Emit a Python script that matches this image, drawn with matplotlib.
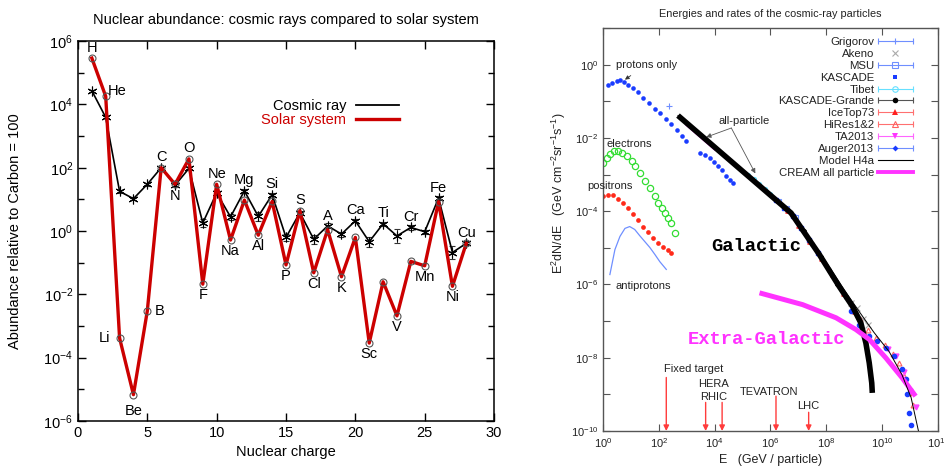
import numpy as np
import matplotlib.pyplot as plt
from matplotlib.lines import Line2D
from matplotlib.legend_handler import HandlerBase
from matplotlib.ticker import NullFormatter

plt.rcParams['font.family'] = ['Liberation Sans', 'DejaVu Sans']
plt.rcParams['mathtext.default'] = 'regular'

# ---------------- left panel: abundance relative to carbon = 100
elements = ['H', 'He', 'Li', 'Be', 'B', 'C', 'N', 'O', 'F', 'Ne', 'Na', 'Mg', 'Al', 'Si',
            'P', 'S', 'Cl', 'A', 'K', 'Ca', 'Sc', 'Ti', 'V', 'Cr', 'Mn', 'Fe', 'Ni', 'Cu']
charge = [1, 2, 3, 4, 5, 6, 7, 8, 9, 10, 11, 12, 13, 14,
          15, 16, 17, 18, 19, 20, 21, 22, 23, 24, 25, 26, 27, 28]
cosmic = [2.7e4, 3.9e3, 18, 10.5, 30, 100, 28, 95, 1.8, 16, 2.8, 18.6, 2.9, 14,
          0.63, 3.8, 0.55, 1.45, 0.8, 2.1, 0.46, 1.7, 0.7, 1.3, 0.95, 11, 0.21, 0.41]
cosmic_err_dex = [0.03, 0.03, 0.05, 0.05, 0.05, 0.03, 0.05, 0.03, 0.13, 0.05, 0.10, 0.05, 0.14, 0.05,
                  0.10, 0.05, 0.15, 0.08, 0.08, 0.05, 0.16, 0.06, 0.22, 0.08, 0.07, 0.05, 0.21, 0.06]
solar = [2.9e5, 1.8e4, 4.2e-4, 6.8e-6, 3.0e-3, 100, 30, 190, 0.021, 30, 0.52, 9.5, 0.74, 8.6,
         0.085, 4.4, 0.048, 1.1, 0.036, 0.63, 2.9e-4, 0.025, 2.1e-3, 0.11, 0.08, 8.5, 0.018, 0.41]
# where each element name sits relative to its points
label_side = ['a', 'ur', 'l', 'bb', 'r', 'a', 'b', 'a', 'b', 'a', 'b', 'a', 'b', 'a',
              'b', 'a', 'b', 'a', 'b', 'a', 'b', 'a', 'b', 'a', 'b', 'a', 'b', 'a']
side_offset = {'a': (0, 7.5), 'b': (0, -8), 'bb': (0, -12), 'l': (-11, 0),
               'r': (9, 0), 'ur': (8, 4)}

# ---------------- right panel: E^2 dN/dE, values as log10
proton_logE = [0.19, 0.33, 0.49, 0.61, 0.75, 0.90, 1.07, 1.25, 1.45, 1.65, 1.85, 2.05, 2.25,
               2.45, 2.65, 2.85, 2.99, 3.46, 3.64, 3.82, 3.98, 4.11, 4.27, 4.42, 4.55, 4.65]
proton_logF = [-0.55, -0.50, -0.44, -0.43, -0.47, -0.55, -0.64, -0.76, -0.90, -1.05, -1.20, -1.33, -1.48,
               -1.62, -1.78, -1.95, -2.09, -2.41, -2.48, -2.56, -2.66, -2.77, -2.88, -3.05, -3.15, -3.23]
electron_logE = [0.01, 0.13, 0.25, 0.39, 0.55, 0.69, 0.85, 1.03, 1.14, 1.32, 1.50, 1.68,
                 1.86, 1.98, 2.10, 2.21, 2.33, 2.45, 2.57]
electron_logF = [-2.68, -2.55, -2.43, -2.37, -2.37, -2.41, -2.50, -2.64, -2.77, -2.95, -3.18, -3.36,
                 -3.59, -3.77, -3.91, -4.05, -4.18, -4.32, -4.59]
positron_logE = [0.01, 0.19, 0.36, 0.54, 0.71, 0.89, 1.07, 1.25, 1.43, 1.61, 1.79, 1.96, 2.14, 2.32, 2.45]
positron_logF = [-3.59, -3.55, -3.57, -3.66, -3.77, -3.90, -4.07, -4.23, -4.42, -4.58, -4.72, -4.86,
                 -4.97, -5.07, -5.14]
antiproton_logE = [0.25, 0.43, 0.61, 0.79, 0.96, 1.14, 1.32, 1.50, 1.68, 1.86, 2.04, 2.27]
antiproton_logF = [-5.73, -5.05, -4.69, -4.47, -4.42, -4.50, -4.67, -4.83, -4.99, -5.18, -5.38, -5.59]
galactic_logE = [2.69, 6.74, 7.75, 8.46, 8.94, 9.24, 9.42, 9.54, 9.63, 9.65]
galactic_logF = [-1.39, -4.05, -5.18, -6.05, -6.60, -7.05, -7.60, -8.14, -8.69, -8.96]
extragal_logE = [5.61, 7.15, 8.35, 9.06, 9.54, 10.13, 10.72, 11.20]
extragal_logF = [-6.23, -6.55, -6.91, -7.23, -7.50, -8.00, -8.55, -9.05]
h4a_logE = [2.69, 6.74, 7.75, 8.64, 9.18, 9.71, 10.25, 10.71, 11.04, 11.30]
h4a_logF = [-1.39, -4.05, -5.10, -6.14, -6.74, -7.31, -7.83, -8.46, -9.09, -9.99]
cream_logE = [3.0, 3.5, 4.0]
cream_logF = [-1.64, -1.97, -2.30]
grigorov_logE = [2.37]
grigorov_logF = [-1.12]
tibet_logE = [5.2, 5.4, 5.6, 5.8, 6.0]
tibet_logF = [-3.00, -3.13, -3.27, -3.40, -3.53]
msu_logE = [6.3, 6.6, 6.9]
msu_logF = [-3.72, -3.92, -4.16]
kascade_logE = [6.2, 6.5, 6.8, 7.1, 7.4, 7.7]
kascade_logF = [-3.69, -3.90, -4.13, -4.45, -4.80, -5.15]
kgrande_logE = [7.2, 7.5, 7.8, 8.1, 8.4, 8.7]
kgrande_logF = [-4.55, -4.90, -5.25, -5.60, -5.98, -6.35]
icetop_logE = [6.6, 7.0, 7.4, 7.8, 8.2, 8.6, 9.0]
icetop_logF = [-4.00, -4.40, -4.85, -5.30, -5.75, -6.25, -6.75]
akeno_logE = [8.9, 9.1, 9.3, 9.5]
akeno_logF = [-6.50, -6.65, -6.95, -7.10]
hires_logE = [9.2, 9.5, 9.8, 10.1, 10.4, 10.6, 10.8, 10.95, 11.1]
hires_logF = [-6.95, -7.25, -7.45, -7.65, -7.90, -8.15, -8.50, -8.95, -9.30]
ta_logE = [10.2, 10.5, 10.8, 11.0, 11.2]
ta_logF = [-7.75, -7.95, -8.40, -8.90, -9.35]
auger_logE = [8.88, 9.18, 9.54, 9.83, 10.13, 10.43, 10.73, 10.85, 10.90, 10.95, 11.02]
auger_logF = [-6.73, -7.10, -7.41, -7.55, -7.73, -7.96, -8.32, -8.59, -9.00, -9.50, -9.85]

accel_names = ['Fixed target', 'HERA', 'RHIC', 'TEVATRON', 'LHC']
accel_logE = [2.27, 3.68, 4.27, 6.20, 7.37]

legend_names = ['Grigorov', 'Akeno', 'MSU', 'KASCADE', 'Tibet', 'KASCADE-Grande', 'IceTop73',
                'HiRes1&2', 'TA2013', 'Auger2013', 'Model H4a', 'CREAM all particle']


def pw(v):
    return 10 ** np.asarray(v, dtype=float)


class HandlerErr(HandlerBase):
    """gnuplot-like key sample: horizontal line, end caps, centre marker"""
    def create_artists(self, legend, orig, xd, yd, w, h, fontsize, trans):
        y = h / 2 - yd
        x0, x1 = -xd, -xd + w
        arts = []
        if orig.get_linestyle() not in ('None', 'none', ''):
            arts.append(Line2D([x0, x1], [y, y], color=orig.get_color(), lw=orig.get_linewidth()))
            if getattr(orig, 'caps', False):
                arts.append(Line2D([x0, x1], [y, y], ls='none', marker='|', ms=5,
                                   mec=orig.get_color(), mew=0.8))
        if orig.get_marker() not in ('None', 'none', '', None):
            arts.append(Line2D([(x0 + x1) / 2], [y], ls='none', marker=orig.get_marker(),
                               ms=orig.get_markersize(), mfc=orig.get_markerfacecolor(),
                               mec=orig.get_markeredgecolor(), mew=orig.get_markeredgewidth()))
        for a in arts:
            a.set_transform(trans)
        return arts


fig = plt.figure(figsize=(9.45, 4.72), dpi=100)

# ================= left panel
ax1 = fig.add_axes([0.0825, 0.108, 0.4403, 0.805])
cosmic_a = np.array(cosmic)
err = np.array(cosmic_err_dex)
yerr = [cosmic_a - cosmic_a / 10 ** err, cosmic_a * 10 ** err - cosmic_a]
ax1.errorbar(charge, cosmic, yerr=yerr, color='black', lw=1.2, marker=(6, 2, 0), ms=7, mew=0.8,
             capsize=2.5, elinewidth=0.7, ecolor='#333333', zorder=2)
ax1.plot(charge, solar, color='#cc0000', lw=2.4, zorder=3)
ax1.plot(charge, solar, ls='none', marker='o', ms=5, mfc='none', mec='#555555', mew=0.8, zorder=4)

for name, z, c, s, side in zip(elements, charge, cosmic, solar, label_side):
    anchor = min(c, s) if side.startswith('b') else max(c, s)
    if side == 'l' or side == 'r':
        anchor = s
    ax1.annotate(name, (z, anchor), xytext=side_offset[side], textcoords='offset points',
                 ha='center', va='center', fontsize=10.5, zorder=5)

ax1.set_yscale('log')
ax1.set_xlim(0, 30)
ax1.set_ylim(1e-6, 1e6)
ax1.set_xticks([0, 5, 10, 15, 20, 25, 30])
ax1.set_yticks([10.0 ** k for k in range(-6, 7, 2)])
ax1.set_yticks([10.0 ** k for k in range(-5, 6, 2)], minor=True)
ax1.yaxis.set_minor_formatter(NullFormatter())
ax1.tick_params(which='both', direction='in', top=True, right=True, labelsize=10.5, width=1)
ax1.tick_params(which='major', length=6)
ax1.tick_params(which='minor', length=4)
for sp in ax1.spines.values():
    sp.set_linewidth(1.1)
ax1.set_xlabel('Nuclear charge', fontsize=10.5)
ax1.set_ylabel('Abundance relative to Carbon = 100', fontsize=10.5)
ax1.yaxis.set_label_coords(-0.134, 0.5)
ax1.set_title('Nuclear abundance: cosmic rays compared to solar system', fontsize=10.5, pad=12)

leg1 = ax1.legend([Line2D([], [], color='black', lw=1.3), Line2D([], [], color='#cc0000', lw=2.4)],
                  ['Cosmic ray', 'Solar system'], loc='upper right', bbox_to_anchor=(0.802, 0.883),
                  frameon=False, markerfirst=False, fontsize=10.5, handlelength=2.9,
                  handletextpad=0.7, labelspacing=0.05)
leg1.get_texts()[1].set_color('#cc0000')

# ================= right panel
ax2 = fig.add_axes([0.638, 0.0869, 0.3545, 0.8538])
blue = '#1a3cff'
lblue = '#6f8fff'

ax2.plot(pw(antiproton_logE), pw(antiproton_logF), color=lblue, lw=0.9)
ax2.plot(pw(proton_logE), pw(proton_logF), ls='none', marker='o', ms=3.3, mfc=blue, mec=blue, mew=0)
ax2.plot(pw(electron_logE), pw(electron_logF), ls='none', marker='o', ms=4.5, mfc='none',
         mec='#33dd33', mew=0.9)
ax2.plot(pw(positron_logE), pw(positron_logF), ls='none', marker='o', ms=3.4, mfc='#ff2a1a',
         mec='#ff2a1a', mew=0)
ax2.plot(pw(grigorov_logE), pw(grigorov_logF), ls='none', marker='+', ms=5, mec=lblue, mew=0.8)

ax2.plot(pw(tibet_logE), pw(tibet_logF), ls='none', marker='o', ms=3, mfc='none', mec='#66e0ff', mew=0.8)
ax2.plot(pw(msu_logE), pw(msu_logF), ls='none', marker='s', ms=3, mfc='none', mec=lblue, mew=0.8)
ax2.plot(pw(kascade_logE), pw(kascade_logF), ls='none', marker='s', ms=2.5, color=blue)
ax2.plot(pw(kgrande_logE), pw(kgrande_logF), ls='none', marker='o', ms=2.5, color='black')
ax2.plot(pw(icetop_logE), pw(icetop_logF), color='#ff4040', lw=0.8, marker='^', ms=2.5)
ax2.plot(pw(akeno_logE), pw(akeno_logF), ls='none', marker='x', ms=4, mec='#aaaaaa', mew=0.8)
ax2.plot(pw(hires_logE), pw(hires_logF), ls='none', marker='^', ms=3.5, mfc='none', mec='#ff6060', mew=0.8)
ax2.plot(pw(ta_logE), pw(ta_logF), ls='none', marker='v', ms=3.5, color='#ff44ff')
ax2.plot(pw(auger_logE), pw(auger_logF), ls='none', marker='o', ms=3, color=blue)

ax2.plot(pw(cream_logE), pw(cream_logF), color='#ff33ff', lw=2, zorder=3)
ax2.plot(pw(galactic_logE), pw(galactic_logF), color='black', lw=4, solid_capstyle='butt', zorder=4)
ax2.plot(pw(extragal_logE), pw(extragal_logF), color='#ff33ff', lw=3.6, solid_capstyle='butt', zorder=4)
ax2.plot(pw(h4a_logE), pw(h4a_logF), color='black', lw=0.7, zorder=5)

tc = '#222222'
ax2.annotate('protons only', xy=(10 ** 0.79, 10 ** -0.41), xytext=(10 ** 1.56, 10 ** 0.0),
             ha='center', va='center', fontsize=8, color=tc,
             arrowprops=dict(arrowstyle='-|>', color='#333333', lw=0.6, mutation_scale=6,
                             shrinkA=4, shrinkB=0))
ax2.text(10 ** 0.96, 10 ** -2.18, 'electrons', ha='center', va='center', fontsize=8, color=tc)
ax2.text(10 ** 0.25, 10 ** -3.32, 'positrons', ha='center', va='center', fontsize=8, color=tc)
ax2.text(10 ** 1.44, 10 ** -6.03, 'antiprotons', ha='center', va='center', fontsize=8, color=tc)
ax2.text(10 ** 5.07, 10 ** -1.55, 'all-particle', ha='center', va='center', fontsize=8, color=tc)
for tgt in [(10 ** 3.70, 10 ** -1.98), (10 ** 5.46, 10 ** -2.97)]:
    ax2.annotate('', xy=tgt, xytext=(10 ** 4.60, 10 ** -1.73),
                 arrowprops=dict(arrowstyle='-|>', color='#555555', lw=0.6, mutation_scale=7,
                                 shrinkA=0, shrinkB=0))
ax2.text(10 ** 5.49, 10 ** -4.96, 'Galactic', ha='center', va='center', fontsize=13.5,
         family=['Liberation Mono', 'DejaVu Sans Mono'], weight='bold', color='black', zorder=6)
ax2.text(10 ** 5.875, 10 ** -7.50, 'Extra-Galactic', ha='center', va='center', fontsize=13.5,
         family=['Liberation Mono', 'DejaVu Sans Mono'], weight='bold', color='#ff33ff', zorder=6)

# accelerator energies
red = '#ff3b3b'
arrow_start = [-8.54, -9.22, -9.22, -9.05, -9.49]
for e, s in zip(accel_logE, arrow_start):
    ax2.annotate('', xy=(10 ** e, 1e-10), xytext=(10 ** e, 10 ** s),
                 arrowprops=dict(arrowstyle='-|>', color=red, lw=1.0, mutation_scale=8,
                                 shrinkA=0, shrinkB=0))
ax2.text(10 ** 3.25, 10 ** -8.32, accel_names[0], ha='center', va='center', fontsize=8, color=tc)
ax2.text(10 ** 3.96, 10 ** -8.71, accel_names[1], ha='center', va='center', fontsize=8, color=tc)
ax2.text(10 ** 3.96, 10 ** -9.07, accel_names[2], ha='center', va='center', fontsize=8, color=tc)
ax2.text(10 ** 5.96, 10 ** -8.94, accel_names[3], ha='center', va='center', fontsize=8, color=tc)
ax2.text(10 ** 7.37, 10 ** -9.33, accel_names[4], ha='center', va='center', fontsize=8, color=tc)

ax2.set_xscale('log')
ax2.set_yscale('log')
ax2.set_xlim(1, 1e12)
ax2.set_ylim(1e-10, 1e1)
ax2.set_xticks([10.0 ** k for k in range(0, 13, 2)])
ax2.set_xticks([], minor=True)
ax2.set_yticks([10.0 ** k for k in range(-10, 1, 2)])
ax2.set_yticks([10.0 ** k for k in range(-9, 2, 2)], minor=True)
ax2.yaxis.set_minor_formatter(NullFormatter())
ax2.tick_params(which='both', direction='in', top=True, right=True, labelsize=8,
                colors='#555555', labelcolor=tc, width=0.8)
ax2.tick_params(which='major', length=5)
ax2.tick_params(which='minor', length=5)
for sp in ax2.spines.values():
    sp.set_color('#555555')
    sp.set_linewidth(1.0)
ax2.set_xlabel('E   (GeV / particle)', fontsize=9, color=tc, labelpad=3)
ax2.set_ylabel('E$^2$dN/dE   (GeV cm$^{-2}$sr$^{-1}$s$^{-1}$)', fontsize=9, color=tc)
ax2.yaxis.set_label_coords(-0.105, 0.59)
ax2.set_title('Energies and rates of the cosmic-ray particles', fontsize=7.8, color=tc, pad=8)

# legend proxies
styles = [
    dict(color=lblue, lw=0.8, marker='+', ms=5, mec=lblue, mfc=lblue, mew=0.8),
    dict(ls='none', marker='x', ms=4, mec='#aaaaaa', mew=0.8),
    dict(color=lblue, lw=0.8, marker='s', ms=4, mfc='none', mec=lblue, mew=0.8),
    dict(ls='none', marker='s', ms=3.5, mfc=blue, mec=blue, mew=0),
    dict(color='#66e0ff', lw=0.8, marker='o', ms=4, mfc='none', mec='#66e0ff', mew=0.8),
    dict(color='#555555', lw=0.8, marker='o', ms=4, mfc='black', mec='black', mew=0),
    dict(color='#ff7070', lw=0.8, marker='^', ms=4, mfc='#ff2020', mec='#ff2020', mew=0),
    dict(color='#ff7070', lw=0.8, marker='^', ms=4, mfc='none', mec='#ff6060', mew=0.8),
    dict(color='#ff66ff', lw=0.8, marker='v', ms=4, mfc='#ff33ff', mec='#ff33ff', mew=0),
    dict(color=lblue, lw=0.8, marker='D', ms=3, mfc=blue, mec=blue, mew=0),
    dict(color='black', lw=0.8),
    dict(color='#ff33ff', lw=2.8),
]
proxies = []
for i, st in enumerate(styles):
    h = Line2D([], [], **st)
    h.caps = i not in (1, 3, 10, 11)
    proxies.append(h)
leg2 = ax2.legend(proxies, legend_names, loc='upper right', bbox_to_anchor=(0.948, 0.998),
                  frameon=False, markerfirst=False, fontsize=8.2, handlelength=3.0,
                  handletextpad=0.35, labelspacing=0.17, borderpad=0.2,
                  handler_map={Line2D: HandlerErr()})
for t in leg2.get_texts():
    t.set_color(tc)

fig.savefig('out.png', dpi=100)
